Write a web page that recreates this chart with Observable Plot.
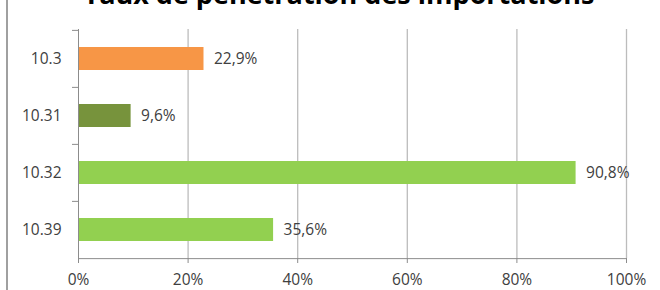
<!DOCTYPE html>
<html>
<head>
<meta charset="utf-8">
<script src="https://cdn.jsdelivr.net/npm/d3@7"></script>
<script src="https://cdn.jsdelivr.net/npm/@observablehq/plot@0.6"></script>
<style>
  body { margin: 0; background: #fff; }
  #wrap { position: relative; width: 660px; height: 290px; overflow: hidden; background: #fff; }
  #title { position: absolute; left: 0; width: 678px; top: -19px; text-align: center;
           font: bold 27px/26px "Open Sans", sans-serif; color: #000; white-space: nowrap; }
  #border { position: absolute; left: 6px; top: 0; bottom: 0; border-left: 2px solid #a0a0a0; }
  #chart { position: absolute; left: 0; top: 0; }
</style>
</head>
<body>
<div id="wrap">
  <div id="title">Taux de pénétration des importations</div>
  <div id="border"></div>
  <div id="chart"></div>
</div>
<script>
const categories = ["10.3", "10.31", "10.32", "10.39"];
const values = [22.9, 9.6, 90.8, 35.6];
const barColors = ["#F79646", "#77933C", "#92D050", "#92D050"];
const xTicks = [0, 20, 40, 60, 80, 100];

const data = categories.map((c, i) => ({cat: c, value: values[i], color: barColors[i]}));
const fmt = v => v.toFixed(1).replace(".", ",") + "%";

const height = 290, marginTop = 29, marginBottom = 32;
const bw = (height - marginTop - marginBottom) / categories.length;

const chart = Plot.plot({
  width: 660,
  height,
  marginLeft: 78,
  marginRight: 34,
  marginTop,
  marginBottom,
  style: {fontFamily: "'Open Sans', sans-serif", fontSize: "15.5px", color: "#404040", background: "transparent"},
  x: {domain: [0, 100]},
  y: {domain: categories, padding: 0},
  marks: [
    Plot.gridX(xTicks.slice(1), {stroke: "#bcbcbc", strokeOpacity: 1, strokeWidth: 1.3}),
    Plot.barX(data, {x: "value", y: "cat", fill: "color", insetTop: 17, insetBottom: 17}),
    Plot.text(data, {x: "value", y: "cat", text: d => fmt(d.value), textAnchor: "start", dx: 10, fill: "#404040"}),
    Plot.ruleX([0], {stroke: "#8c8c8c"}),
    Plot.ruleY([categories[categories.length - 1]], {dy: bw / 2, stroke: "#8c8c8c"}),
    Plot.axisX({ticks: xTicks, tickSize: 5, tickPadding: 10, tickFormat: d => d + "%", stroke: "#8c8c8c", fill: "#404040", label: null}),
    Plot.axisY({tickSize: 0, tickPadding: 17, fill: "#404040", label: null}),
    Plot.axisY({tickSize: 6, tickFormat: () => "", dy: -bw / 2, stroke: "#8c8c8c", label: null})
  ]
});
document.getElementById("chart").appendChild(chart);
</script>
</body>
</html>
